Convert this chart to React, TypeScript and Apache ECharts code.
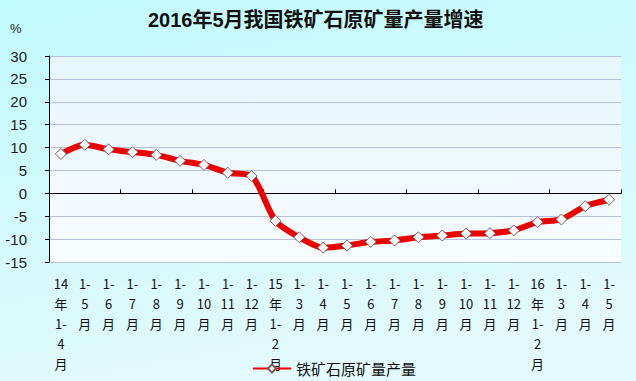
import React, { useEffect, useRef } from "react";
import * as echarts from "echarts";

const categories = [
  "14年1-4月", "1-5月", "1-6月", "1-7月", "1-8月", "1-9月", "1-10月", "1-11月", "1-12月",
  "15年1-2月", "1-3月", "1-4月", "1-5月", "1-6月", "1-7月", "1-8月", "1-9月", "1-10月", "1-11月", "1-12月",
  "16年1-2月", "1-3月", "1-4月", "1-5月",
];
const growth = [
  8.6, 10.6, 9.6, 9.0, 8.4, 7.1, 6.2, 4.5, 3.8,
  -6.0, -9.6, -11.9, -11.4, -10.6, -10.3, -9.6, -9.2, -8.8, -8.7, -8.1,
  -6.3, -5.7, -2.8, -1.4,
];
const seriesName = "铁矿石原矿量产量";
const titleText = "2016年5月我国铁矿石原矿量产量增速";

function wrapLabel(s: string): string {
  return s
    .replace(/^(\d\d)年/, "$1\n年\n")
    .replace("1-", "1-\n")
    .replace("月", "\n月");
}

export default function App() {
  const ref = useRef<HTMLDivElement>(null);
  useEffect(() => {
    if (!ref.current) return;
    const chart = echarts.init(ref.current, null, { renderer: "svg" });
    chart.setOption({
      animation: false,
      backgroundColor: {
        type: "linear", x: 0, y: 0, x2: 0.3, y2: 1,
        colorStops: [
          { offset: 0, color: "#c2fbfe" },
          { offset: 1, color: "#e2fafb" },
        ],
      },
      title: {
        text: titleText,
        left: 143,
        top: 5,
        textStyle: {
          fontSize: 20,
          fontWeight: "bold",
          color: "#111",
          fontFamily: "Liberation Sans, Noto Sans CJK SC",
        },
      },
      graphic: [
        {
          type: "text",
          left: 10,
          top: 22,
          style: { text: "%", fontSize: 13, fill: "#222", fontFamily: "Liberation Sans" },
        },
      ],
      legend: {
        left: 247,
        top: 356,
        itemWidth: 38,
        itemHeight: 10,
        itemGap: 4,
        data: [seriesName],
        textStyle: { fontSize: 15, color: "#111", fontFamily: "Noto Sans CJK SC" },
      },
      grid: {
        left: 49,
        right: 15,
        top: 56,
        bottom: 119,
        show: true,
        borderWidth: 0,
        backgroundColor: {
          type: "linear", x: 0, y: 0, x2: 0, y2: 1,
          colorStops: [
            { offset: 0, color: "#e6f6fc" },
            { offset: 1, color: "#f8fcfe" },
          ],
        },
      },
      xAxis: [
        {
          type: "category",
          data: categories,
          position: "bottom",
          axisLine: { show: false, onZero: false },
          axisTick: { show: false },
          axisLabel: {
            interval: 0,
            margin: 11,
            fontSize: 13,
            lineHeight: 20,
            color: "#111",
            fontFamily: "Noto Sans CJK SC",
            formatter: (v: string) => wrapLabel(v),
          },
        },
        {
          type: "category",
          data: categories,
          position: "bottom",
          axisLine: { show: true, onZero: true, onZeroAxisIndex: 0, lineStyle: { color: "#000", width: 1 } },
          axisTick: { show: true, inside: true, length: 4, lineStyle: { color: "#000" } },
          axisLabel: { show: false },
          splitLine: { show: false },
        },
      ],
      yAxis: {
        type: "value",
        min: -15,
        max: 30,
        interval: 5,
        axisLine: { show: true, lineStyle: { color: "#000", width: 1 } },
        axisTick: { show: true, length: 4, lineStyle: { color: "#000" } },
        axisLabel: {
          margin: 22,
          fontSize: 15,
          color: "#222",
          fontFamily: "Liberation Sans",
        },
        splitLine: { lineStyle: { color: "#b8c2dc", width: 1 } },
      },
      series: [
        {
          name: seriesName,
          type: "line",
          xAxisIndex: 0,
          data: growth,
          smooth: 0.25,
          symbol: "diamond",
          symbolSize: 11,
          lineStyle: { color: "#ec0000", width: 6 },
          itemStyle: { color: "#ffffff", borderColor: "#7a5a5a", borderWidth: 1 },
          emphasis: { disabled: true },
        },
      ],
    });
    return () => chart.dispose();
  }, []);
  return (
    <div
      ref={ref}
      style={{ position: "fixed", left: 0, top: 0, width: 636, height: 381 }}
    />
  );
}
